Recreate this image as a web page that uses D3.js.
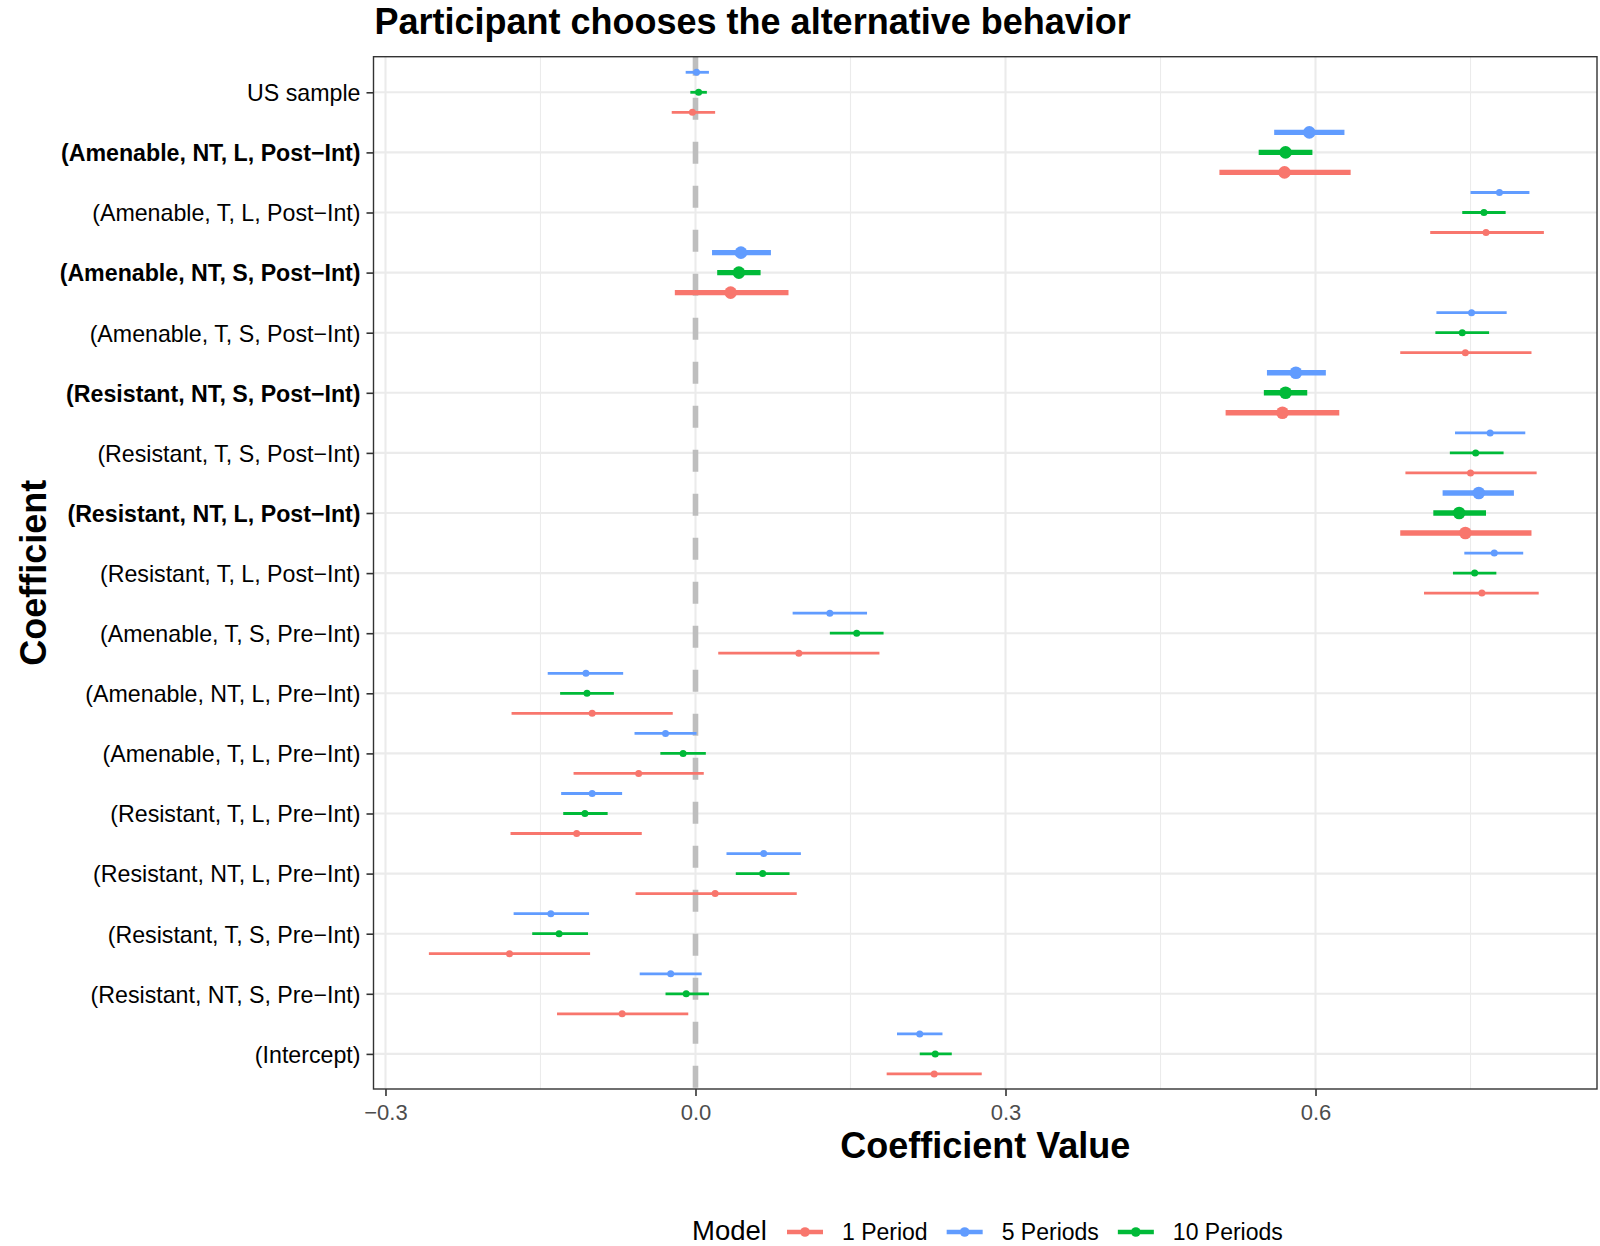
<!DOCTYPE html>
<html>
<head>
<meta charset="utf-8">
<script src="https://cdn.jsdelivr.net/npm/d3@7"></script>
<style>
  html, body { margin: 0; padding: 0; background: #ffffff; }
  svg { display: block; font-family: "Liberation Sans", Arial, Helvetica, sans-serif; }
</style>
</head>
<body>
<svg id="chart" width="1600" height="1246"></svg>
<script>
// Coefficient rows, top to bottom
const categories = [
  "US sample",
  "(Amenable, NT, L, Post\u2212Int)",
  "(Amenable, T, L, Post\u2212Int)",
  "(Amenable, NT, S, Post\u2212Int)",
  "(Amenable, T, S, Post\u2212Int)",
  "(Resistant, NT, S, Post\u2212Int)",
  "(Resistant, T, S, Post\u2212Int)",
  "(Resistant, NT, L, Post\u2212Int)",
  "(Resistant, T, L, Post\u2212Int)",
  "(Amenable, T, S, Pre\u2212Int)",
  "(Amenable, NT, L, Pre\u2212Int)",
  "(Amenable, T, L, Pre\u2212Int)",
  "(Resistant, T, L, Pre\u2212Int)",
  "(Resistant, NT, L, Pre\u2212Int)",
  "(Resistant, T, S, Pre\u2212Int)",
  "(Resistant, NT, S, Pre\u2212Int)",
  "(Intercept)"
];

// Rows drawn with emphasis (bold label, larger marks)
const highlighted = [
  "(Amenable, NT, L, Post\u2212Int)",
  "(Amenable, NT, S, Post\u2212Int)",
  "(Resistant, NT, S, Post\u2212Int)",
  "(Resistant, NT, L, Post\u2212Int)"
];

const models = ["1 Period", "5 Periods", "10 Periods"];
const modelColors = ["#F8766D", "#619CFF", "#00BA38"];

// 1 Period model: estimate, lower, upper
const est1  = [-0.003, 0.570, 0.765, 0.034, 0.745, 0.568, 0.750, 0.745, 0.761, 0.100, -0.100, -0.055, -0.115, 0.019, -0.180, -0.071, 0.231];
const low1  = [-0.023, 0.507, 0.711, -0.020, 0.682, 0.513, 0.687, 0.682, 0.705, 0.022, -0.178, -0.118, -0.179, -0.058, -0.258, -0.134, 0.185];
const high1 = [0.019, 0.634, 0.821, 0.090, 0.809, 0.623, 0.814, 0.809, 0.816, 0.178, -0.022, 0.008, -0.052, 0.098, -0.102, -0.007, 0.277];

// 5 Periods model
const est5  = [0.001, 0.594, 0.778, 0.044, 0.751, 0.581, 0.769, 0.758, 0.773, 0.130, -0.106, -0.029, -0.100, 0.066, -0.140, -0.024, 0.217];
const low5  = [-0.0095, 0.560, 0.750, 0.016, 0.717, 0.553, 0.735, 0.723, 0.744, 0.094, -0.143, -0.059, -0.130, 0.030, -0.176, -0.054, 0.195];
const high5 = [0.013, 0.628, 0.807, 0.073, 0.785, 0.610, 0.803, 0.792, 0.801, 0.166, -0.070, 0.001, -0.071, 0.102, -0.103, 0.006, 0.239];

// 10 Periods model
const est10  = [0.003, 0.571, 0.763, 0.042, 0.742, 0.571, 0.755, 0.739, 0.754, 0.156, -0.105, -0.012, -0.107, 0.065, -0.132, -0.009, 0.232];
const low10  = [-0.005, 0.545, 0.742, 0.021, 0.716, 0.550, 0.730, 0.714, 0.733, 0.130, -0.131, -0.034, -0.128, 0.039, -0.158, -0.029, 0.217];
const high10 = [0.011, 0.597, 0.784, 0.063, 0.768, 0.592, 0.782, 0.765, 0.775, 0.182, -0.079, 0.010, -0.085, 0.091, -0.104, 0.013, 0.248];

const xTicks = [-0.3, 0.0, 0.3, 0.6];
const xMinorTicks = [-0.15, 0.15, 0.45, 0.75];

// Long-format rows for drawing
const seriesTable = [
  { model: models[0], est: est1, low: low1, high: high1 },
  { model: models[1], est: est5, low: low5, high: high5 },
  { model: models[2], est: est10, low: low10, high: high10 }
];
const rows = [];
seriesTable.forEach(s => {
  categories.forEach((c, i) => {
    rows.push({ model: s.model, term: c, est: s.est[i], low: s.low[i], high: s.high[i] });
  });
});

// Layout
const panel = { left: 373.5, right: 1597, top: 56.7, bottom: 1089 };
const svg = d3.select("#chart");

const x = d3.scaleLinear().domain([-0.3116, 0.8724]).range([panel.left, panel.right]);
const y = d3.scalePoint().domain(categories).range([92.3, 1053.9]);
const dodge = d3.scalePoint().domain(["5 Periods", "10 Periods", "1 Period"]).range([-20, 20]);
const color = d3.scaleOrdinal().domain(models).range(modelColors);
const isBold = t => highlighted.includes(t);

// Panel background
svg.append("rect")
  .attr("x", panel.left).attr("y", panel.top)
  .attr("width", panel.right - panel.left).attr("height", panel.bottom - panel.top)
  .attr("fill", "#ffffff");

const grid = svg.append("g");
grid.selectAll("line.minor").data(xMinorTicks).join("line")
  .attr("x1", d => x(d)).attr("x2", d => x(d))
  .attr("y1", panel.top).attr("y2", panel.bottom)
  .attr("stroke", "#ebebeb").attr("stroke-width", 1.1);
grid.selectAll("line.majorx").data(xTicks).join("line")
  .attr("x1", d => x(d)).attr("x2", d => x(d))
  .attr("y1", panel.top).attr("y2", panel.bottom)
  .attr("stroke", "#ebebeb").attr("stroke-width", 2.1);
grid.selectAll("line.majory").data(categories).join("line")
  .attr("x1", panel.left).attr("x2", panel.right)
  .attr("y1", d => y(d)).attr("y2", d => y(d))
  .attr("stroke", "#ebebeb").attr("stroke-width", 2.1);

// Reference line at zero
svg.append("line")
  .attr("x1", x(0)).attr("x2", x(0))
  .attr("y1", panel.top).attr("y2", panel.bottom)
  .attr("stroke", "#bebebe").attr("stroke-width", 5.6)
  .attr("stroke-dasharray", "22,22").attr("stroke-dashoffset", 3);

// Confidence intervals and estimates
const marks = svg.append("g");
marks.selectAll("line.ci").data(rows).join("line")
  .attr("class", "ci")
  .attr("x1", d => x(d.low)).attr("x2", d => x(d.high))
  .attr("y1", d => y(d.term) + dodge(d.model)).attr("y2", d => y(d.term) + dodge(d.model))
  .attr("stroke", d => color(d.model))
  .attr("stroke-width", d => isBold(d.term) ? 5.4 : 2.8);
marks.selectAll("circle.pt").data(rows).join("circle")
  .attr("class", "pt")
  .attr("cx", d => x(d.est)).attr("cy", d => y(d.term) + dodge(d.model))
  .attr("r", d => isBold(d.term) ? 6.3 : 3.5)
  .attr("fill", d => color(d.model));

// Panel border
svg.append("rect")
  .attr("x", panel.left).attr("y", panel.top)
  .attr("width", panel.right - panel.left).attr("height", panel.bottom - panel.top)
  .attr("fill", "none").attr("stroke", "#333333").attr("stroke-width", 1.4);

// Y axis
const yAxis = svg.append("g")
  .attr("transform", `translate(${panel.left},0)`)
  .call(d3.axisLeft(y).tickSize(7).tickPadding(6));
yAxis.select(".domain").remove();
yAxis.selectAll(".tick line").attr("stroke", "#333333").attr("stroke-width", 1.6);
yAxis.selectAll(".tick text")
  .attr("fill", "#000000")
  .style("font-size", "23.2px")
  .style("font-family", "'Liberation Sans', Arial, sans-serif")
  .style("font-weight", d => isBold(d) ? "bold" : "normal")
  .attr("dy", "0.36em");

// X axis
const xAxis = svg.append("g")
  .attr("transform", `translate(0,${panel.bottom})`)
  .call(d3.axisBottom(x).tickValues(xTicks).tickFormat(d3.format(".1f")).tickSize(7).tickPadding(6));
xAxis.select(".domain").remove();
xAxis.selectAll(".tick line").attr("stroke", "#333333").attr("stroke-width", 1.6);
xAxis.selectAll(".tick text")
  .attr("fill", "#4d4d4d")
  .style("font-size", "22px")
  .style("font-family", "'Liberation Sans', Arial, sans-serif")
  .attr("y", 0).attr("dy", 0)
  .attr("transform", "translate(0,31)");

// Titles
svg.append("text")
  .attr("x", panel.left + 1).attr("y", 34)
  .attr("font-size", 36).attr("font-weight", "bold")
  .attr("fill", "#000000")
  .text("Participant chooses the alternative behavior");

svg.append("text")
  .attr("x", (panel.left + panel.right) / 2).attr("y", 1158)
  .attr("text-anchor", "middle")
  .attr("font-size", 36).attr("font-weight", "bold")
  .attr("fill", "#000000")
  .text("Coefficient Value");

svg.append("text")
  .attr("transform", `translate(45.5,${(panel.top + panel.bottom) / 2}) rotate(-90)`)
  .attr("text-anchor", "middle")
  .attr("font-size", 36).attr("font-weight", "bold")
  .attr("fill", "#000000")
  .text("Coefficient");

// Legend
const legend = svg.append("g");
legend.append("text")
  .attr("x", 692).attr("y", 1240)
  .attr("font-size", 27.5).attr("fill", "#000000")
  .text("Model");

let cursor = 787;
const keyY = 1232;
models.forEach(m => {
  const item = legend.append("g");
  item.append("line")
    .attr("x1", cursor).attr("x2", cursor + 36)
    .attr("y1", keyY).attr("y2", keyY)
    .attr("stroke", color(m)).attr("stroke-width", 4.6);
  item.append("circle")
    .attr("cx", cursor + 18).attr("cy", keyY).attr("r", 4.8)
    .attr("fill", color(m));
  const label = item.append("text")
    .attr("x", cursor + 55).attr("y", 1240)
    .attr("font-size", 23).attr("fill", "#000000")
    .text(m);
  const w = label.node().getComputedTextLength();
  cursor = cursor + 55 + w + 19;
});
</script>
</body>
</html>
